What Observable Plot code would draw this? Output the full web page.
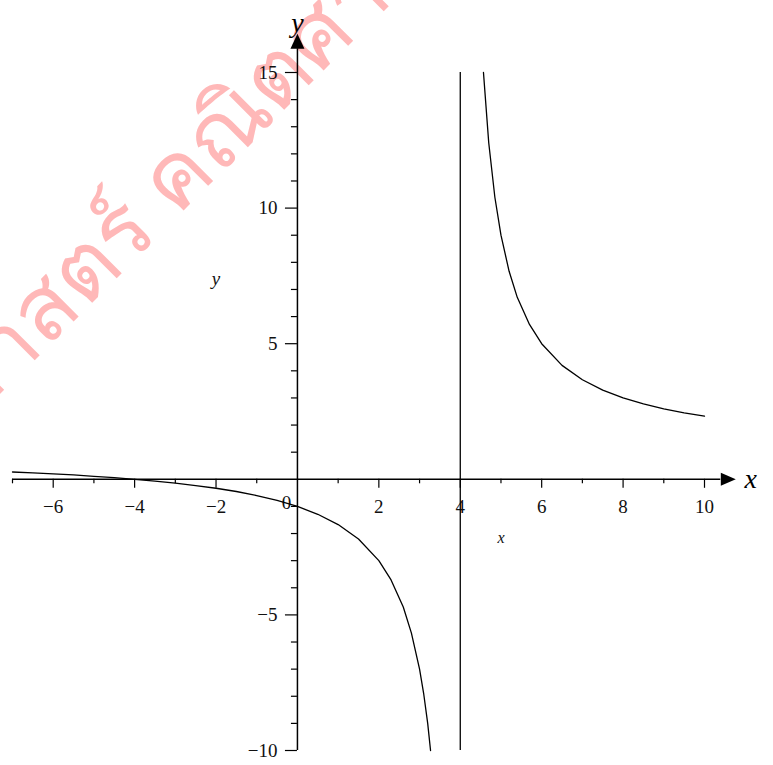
<!DOCTYPE html>
<html>
<head>
<meta charset="utf-8">
<script src="https://cdn.jsdelivr.net/npm/d3@7"></script>
<script src="https://cdn.jsdelivr.net/npm/@observablehq/plot@0.6"></script>
<style>
  html, body { margin: 0; padding: 0; background: #fff; }
  #wrap { position: relative; width: 773px; height: 765px; overflow: hidden; }
  #stamp {
    position: absolute; left: 166px; top: 208px; width: 0; height: 0;
    transform: rotate(-45deg); transform-origin: 0 0; z-index: 0;
  }
  #stamp span {
    position: absolute; top: 0; transform: translateY(-62%);
    white-space: nowrap; line-height: 1;
    font: 90px "Noto Sans", "DejaVu Sans", sans-serif; color: #ffb8b8;
  }
  #stamp .pre { right: 0; }
  #stamp .post { left: 0; }
  #chart { position: absolute; left: 0; top: 0; z-index: 1; }
  #chart svg { background: transparent !important; }
</style>
</head>
<body>
<div id="wrap">
  <div id="stamp"><span class="pre">ศาสตร์&nbsp;</span><span class="post">คณิตศาสตร์</span></div>
  <div id="chart"></div>
</div>
<script>
// y = (x + 4) / (x - 4), sampled on each side of the pole at x = 4
const leftX  = [-7, -6.5, -6, -5.5, -5, -4.5, -4, -3.5, -3, -2.5, -2, -1.5, -1, -0.5, 0, 0.5, 1, 1.5, 2, 2.3, 2.6, 2.8, 3.0, 3.1, 3.2, 3.27];
const leftY  = [0.27, 0.24, 0.20, 0.16, 0.11, 0.06, 0, -0.07, -0.14, -0.23, -0.33, -0.45, -0.6, -0.78, -1, -1.29, -1.67, -2.2, -3, -3.71, -4.71, -5.67, -7, -7.89, -9, -10];
const rightX = [4.57, 4.7, 4.85, 5.0, 5.2, 5.4, 5.7, 6.0, 6.5, 7.0, 7.5, 8.0, 8.5, 9.0, 9.5, 10];
const rightY = [15, 12.4, 10.4, 9, 7.67, 6.71, 5.71, 5, 4.2, 3.67, 3.29, 3, 2.78, 2.6, 2.45, 2.33];
const poleX = [4];

// axis ticks and labels
const xMinorTicks = d3.range(-7, 11);
const xLabels = [-6, -4, -2, 2, 4, 6, 8, 10];
const originLabel = ["0"];
const yMinorTicks = d3.range(-10, 16);
const yLabels = [-10, -5, 5, 10, 15];

const xDomain = [-7, 10];
const yDomain = [-10, 15];
const xAxisEnd = 10.4;
const yAxisEnd = 15.88;

const curve = [
  ...leftX.map((x, i) => ({x, y: leftY[i], branch: "left"})),
  ...rightX.map((x, i) => ({x, y: rightY[i], branch: "right"}))
];

const fmt = (v) => (v < 0 ? "\u2212" + Math.abs(v) : String(v));
const serif = "'Liberation Serif', serif";
const tickFont = {fontFamily: serif, fontSize: 19, fill: "#111"};

const arrowUp = {
  draw(ctx) {
    ctx.moveTo(0, -7.5); ctx.lineTo(7, 7.5); ctx.lineTo(-7, 7.5); ctx.closePath();
  }
};
const arrowRight = {
  draw(ctx) {
    ctx.moveTo(7.5, 0); ctx.lineTo(-7.5, 6.5); ctx.lineTo(-7.5, -6.5); ctx.closePath();
  }
};

const chart = Plot.plot({
  width: 773,
  height: 765,
  marginLeft: 12,
  marginRight: 69,
  marginTop: 72,
  marginBottom: 15,
  style: {background: "transparent", overflow: "visible"},
  x: {domain: xDomain, axis: null},
  y: {domain: yDomain, axis: null},
  marks: [
    // axes through the origin
    Plot.ruleY([0], {x1: xDomain[0], x2: xAxisEnd, stroke: "#000", strokeWidth: 1.5}),
    Plot.ruleX([0], {y1: yDomain[0], y2: yAxisEnd, stroke: "#000", strokeWidth: 1.5}),
    Plot.dot([0], {x: xAxisEnd, y: 0, symbol: arrowRight, r: 5, fill: "#000", stroke: null, dx: 7.5}),
    Plot.dot([0], {x: 0, y: yAxisEnd, symbol: arrowUp, r: 5, fill: "#000", stroke: null, dy: -7.5}),

    // x ticks hang below the axis
    Plot.ruleX(xMinorTicks.filter((v) => v % 2 !== 0), {x: (d) => d, y1: 0, y2: 0, insetBottom: -4.5, stroke: "#000", strokeWidth: 1.2}),
    Plot.ruleX(xLabels, {x: (d) => d, y1: 0, y2: 0, insetBottom: -9, stroke: "#000", strokeWidth: 1.2}),
    // y ticks sit left of the axis
    Plot.ruleY(yMinorTicks.filter((v) => v % 5 !== 0), {y: (d) => d, x1: 0, x2: 0, insetLeft: -6, stroke: "#000", strokeWidth: 1.2}),
    Plot.ruleY(yLabels, {y: (d) => d, x1: 0, x2: 0, insetLeft: -12, stroke: "#000", strokeWidth: 1.2}),

    // tick labels
    Plot.text(xLabels, {x: (d) => d, y: 0, text: fmt, dy: 28, ...tickFont}),
    Plot.text(originLabel, {x: 0, y: 0, text: (d) => d, dy: 24, dx: -11, ...tickFont}),
    Plot.text(yLabels, {x: 0, y: (d) => d, text: fmt, dx: -20, textAnchor: "end", ...tickFont}),

    // axis names
    Plot.text(["x"], {x: xAxisEnd, y: 0, text: (d) => d, dx: 30, fontSize: 28, fontStyle: "italic", fontFamily: serif, fill: "#000"}),
    Plot.text(["y"], {x: 0, y: yAxisEnd, text: (d) => d, dy: -26, fontSize: 28, fontStyle: "italic", fontFamily: serif, fill: "#000"}),
    Plot.text(["y"], {x: -2, y: 7.4, text: (d) => d, fontSize: 19, fontStyle: "italic", fontFamily: serif, fill: "#111"}),
    Plot.text(["x"], {x: 5, y: -2.15, text: (d) => d, fontSize: 16, fontStyle: "italic", fontFamily: serif, fill: "#111"}),

    // the function and the jump across the pole
    Plot.ruleX(poleX, {x: (d) => d, y1: yDomain[0], y2: yDomain[1], stroke: "#000", strokeWidth: 1.3}),
    Plot.line(curve, {x: "x", y: "y", z: "branch", stroke: "#000", strokeWidth: 1.3})
  ]
});

document.getElementById("chart").appendChild(chart);
</script>
</body>
</html>
